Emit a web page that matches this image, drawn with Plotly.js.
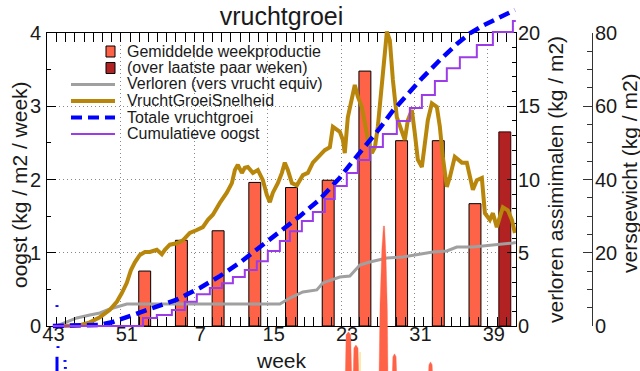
<!DOCTYPE html>
<html>
<head>
<meta charset="utf-8">
<script src="https://cdn.plot.ly/plotly-3.0.1.min.js"></script>
<style>
  html, body { margin: 0; padding: 0; background: #fff; }
  #chart { width: 640px; height: 371px; }
</style>
</head>
<body>
<div id="chart"></div>
<script>
// Week axis: 0 = week 43; numbering wraps after week 52.
const weekTickVals = [0, 8, 16, 24, 32, 40, 48];
const weekTickText = ['43', '51', '7', '15', '23', '31', '39'];

// Average weekly harvest (kg/m2/week), one bar per 4 weeks
const barWeeks = [10.6, 14.6, 18.6, 22.6, 26.6, 30.6, 34.6, 38.6, 42.6, 46.6];
const barValues = [0.75, 1.17, 1.30, 1.96, 1.89, 1.99, 3.48, 2.53, 2.53, 1.67];
// Average over the last couple of weeks
const recentBarWeeks = [49.85];
const recentBarValues = [2.65];

// Lost assimilates, fresh fruit equivalent (kg/m2)
const lostWeeks = [1.02, 2.11, 3.20, 4.62, 5.71, 6.80, 7.56, 8.65, 25.33, 26.42, 27.84, 29.36, 30.01,
  31.87, 32.96, 34.05, 35.14, 37.0, 38.74, 40.26, 42.0, 43.53, 44.62, 46.37, 48.98, 50.73, 51.05];
const lostValues = [0, 0.27, 0.55, 0.75, 0.89, 1.16, 1.30, 1.50, 1.50, 1.91, 2.32, 2.46, 2.94,
  3.34, 3.41, 4.16, 4.37, 4.64, 4.71, 4.85, 5.05, 5.12, 5.39, 5.39, 5.53, 5.67, 5.70];

// Fruit growth rate (kg/m2/week)
const growthWeeks = [1.68, 3.53, 4.62, 5.71, 6.80, 7.56, 8.11, 8.65, 9.09, 9.53, 10.07, 10.62, 11.16,
  11.92, 12.47, 12.80, 13.34, 14.10, 14.76, 15.52, 16.28, 16.94, 17.49, 18.03, 18.79, 19.55, 20.10,
  20.43, 20.75, 21.19, 21.51, 21.84, 22.39, 22.93, 23.48, 23.91, 24.24, 24.57, 25.11, 25.55, 25.87,
  26.20, 26.64, 27.18, 27.84, 28.38, 28.93, 29.69, 30.23, 30.78, 31.11, 31.54, 31.87, 32.20, 32.41,
  32.74, 33.18, 33.50, 33.83, 34.27, 34.60, 34.92, 35.36, 35.69, 36.01, 36.45, 36.78, 37.00, 37.32,
  37.65, 38.08, 38.63, 38.95, 39.28, 39.72, 40.04, 40.37, 40.81, 41.13, 41.46, 41.90, 42.44, 42.77,
  43.09, 43.53, 43.86, 44.40, 44.73, 45.17, 45.71, 46.04, 46.37, 46.80, 47.35, 47.68, 48.22, 48.55,
  48.98, 49.31, 49.64, 50.18, 50.62, 50.95];
const growthRates = [0, 0.01, 0.05, 0.12, 0.22, 0.33, 0.45, 0.59, 0.76, 0.87, 0.97, 1.01, 1.01,
  1.04, 0.98, 1.04, 1.11, 1.13, 1.17, 1.27, 1.31, 1.35, 1.45, 1.52, 1.68, 1.82, 1.95,
  2.13, 2.20, 2.09, 2.16, 2.17, 2.09, 2.13, 1.99, 1.79, 1.69, 1.82, 1.95, 2.09, 2.23,
  2.13, 1.95, 1.92, 2.06, 2.09, 2.23, 2.33, 2.40, 2.44, 2.72, 2.68, 2.65, 2.54, 2.36,
  2.85, 3.09, 3.29, 3.13, 2.99, 2.77, 2.54, 2.36, 2.44, 2.72, 3.26, 3.77, 4.02, 3.90,
  3.36, 2.85, 2.63, 2.54, 2.81, 2.95, 2.63, 2.27, 2.17, 2.54, 2.81, 3.04, 2.99, 2.72,
  2.31, 1.90, 2.03, 2.31, 2.27, 2.23, 2.23, 2.03, 1.86, 1.99, 2.02, 1.54, 1.45, 1.54,
  1.35, 1.49, 1.62, 1.58, 1.45, 1.27];

// Total fruit growth (kg/m2 fresh weight)
const totalWeeks = [0.59, 3.53, 5.71, 7.13, 9.31, 11.16, 14.10, 16.61, 18.79, 20.97, 23.15, 25.33,
  27.51, 29.69, 31.87, 32.96, 34.81, 36.23, 37.65, 39.50, 40.92, 42.77, 44.62, 46.04, 47.46, 49.31, 50.95];
const totalGrowth = [0, 0, 0.3, 1.1, 3.0, 4.6, 7.2, 10.4, 13.6, 17.3, 21.6, 25.6,
  30.0, 34.6, 40.5, 44.0, 49.5, 54.0, 58.8, 64.2, 67.9, 72.6, 77.0, 79.9, 82.0, 84.3, 86.3];

// Cumulative harvest (kg/m2 fresh weight), stepping up at each harvest
const harvestWeeks = [0.59, 10.41, 11.92, 13.56, 14.97, 16.28, 17.70, 19.01, 20.21, 21.51, 22.82,
  24.02, 25.33, 26.42, 27.73, 28.93, 30.23, 31.32, 32.63, 33.83, 35.14, 36.56, 38.08, 39.50, 40.81,
  42.23, 43.53, 44.95, 46.80, 48.55, 50.73, 51.05];
const harvestCum = [0, 2.2, 3.0, 4.4, 6.6, 8.7, 10.4, 11.7, 13.4, 15.3, 17.7,
  20.5, 23.2, 25.9, 28.7, 31.1, 34.7, 38.2, 41.8, 45.3, 48.9, 52.4, 56.0, 59.5, 63.1,
  66.9, 70.4, 73.4, 76.7, 80.3, 83.3, 83.3];

// Stray daily-harvest spikes that spill below the week axis (one outline per spike)
const spikeWeeks = [
  [32.45, 32.55, 32.8, 33.05, 33.18],
  [33.30, 33.40, 33.62, 33.85, 33.96],
  [36.13, 36.25, 36.45, 36.62, 36.74, 36.9, 37.05, 37.12],
  [37.55, 37.65, 37.83, 38.0, 38.1],
  [41.48, 41.58, 41.75, 41.93, 42.03]
];
const spikeLevels = [
  [-0.8, -0.12, -0.08, -0.12, -0.8],
  [-0.8, -0.30, -0.26, -0.30, -0.8],
  [-0.8, 0.3, 1.05, 1.365, 1.365, 0.95, 0.2, -0.8],
  [-0.8, -0.42, -0.38, -0.42, -0.8],
  [-0.8, -0.53, -0.49, -0.53, -0.8]
];
const paleWeeks = [34.07, 34.07];
const paleLevels = [-0.355, -0.7];
// Stray dashes of the growth curve near the start
const strayWeeks = [1.04, 1.04, null, 1.15, 1.15, null, 1.04, 1.04, null, 1.91, 1.91, null, 1.95, 1.95];
const strayLevels = [0.285, 0.26, null, -0.275, -0.30, null, -0.42, -0.7, null, -0.465, -0.49, null, -0.56, -0.585];

// ---- layout geometry (pixels of a 640 x 371 page) ----
const W = 640, H = 371;
const plotL = 47, plotR = 516, plotT = 33, plotB = 326;
const xDom = [plotL / W, plotR / W];
const yDom = [(H - plotB) / H, (H - plotT) / H];
const xRange = [-0.05, 51.07];
const perPx = 4 / (plotB - plotT);
const fullLeft = [-(H - plotB) * perPx, plotB * perPx];
const fullWeight = fullLeft.map(v => v * 20);

const FONT = 'Liberation Sans, Arial, Helvetica, sans-serif';
const INK = '#1a1a1a';
const TOMATO = '#FF6347';
const FIREBRICK = '#B22222';
const GREY = '#A0A0A0';
const GOLD = '#B8860B';
const BLUE = '#0000FF';
const VIOLET = '#9B3CE8';
const DASH = '11px,6px';

const traces = [
  { type: 'bar', name: 'Gemiddelde weekproductie', x: barWeeks, y: barValues, width: 1.3,
    marker: { color: TOMATO, line: { color: '#000', width: 1 } }, xaxis: 'x', yaxis: 'y' },
  { type: 'bar', name: '(over laatste paar weken)', x: recentBarWeeks, y: recentBarValues, width: 1.3,
    marker: { color: FIREBRICK, line: { color: '#300', width: 1 } }, xaxis: 'x', yaxis: 'y' },
  { type: 'scatter', mode: 'lines', name: 'Verloren (vers vrucht equiv)', x: lostWeeks, y: lostValues,
    line: { color: GREY, width: 3 }, xaxis: 'x', yaxis: 'y2' },
  // empty series that registers the fresh-weight axis
  { type: 'scatter', mode: 'lines', x: [], y: [], xaxis: 'x', yaxis: 'y3', hoverinfo: 'skip' }
];
// the remaining traces live on full-height twin axes so they may run past the frame
spikeWeeks.forEach((xs, i) => traces.push({
  type: 'scatter', mode: 'lines', x: xs, y: spikeLevels[i], fill: 'toself', fillcolor: TOMATO,
  line: { width: 0.6, color: 'rgba(255,99,71,0.6)' }, xaxis: 'x2', yaxis: 'y4', hoverinfo: 'skip'
}));
traces.push(
  { type: 'scatter', mode: 'lines', x: paleWeeks, y: paleLevels,
    line: { width: 1.2, color: '#F3E27A' }, xaxis: 'x2', yaxis: 'y4', hoverinfo: 'skip' },
  { type: 'scatter', mode: 'lines', name: 'VruchtGroeiSnelheid', x: growthWeeks, y: growthRates,
    line: { color: GOLD, width: 4 }, xaxis: 'x2', yaxis: 'y4' },
  { type: 'scatter', mode: 'lines', name: 'Totale vruchtgroei', x: totalWeeks, y: totalGrowth,
    line: { color: BLUE, width: 4.5, dash: DASH }, xaxis: 'x2', yaxis: 'y5' },
  { type: 'scatter', mode: 'lines', name: 'Cumulatieve oogst', x: harvestWeeks, y: harvestCum,
    line: { color: VIOLET, width: 2, shape: 'hv' }, xaxis: 'x2', yaxis: 'y5' },
  { type: 'scatter', mode: 'lines', x: strayWeeks, y: strayLevels, connectgaps: false,
    line: { color: BLUE, width: 3 }, xaxis: 'x2', yaxis: 'y4', hoverinfo: 'skip' }
);

const tickFont = { family: FONT, size: 20, color: INK };
const frame = { showline: true, linecolor: '#000', linewidth: 1, zeroline: false };
const GRID = { showgrid: true, gridcolor: '#888', griddash: '1px,3px', gridwidth: 1 };

// hand-built key, top left inside the frame
const keyRows = [
  { label: 'Gemiddelde weekproductie', kind: 'box', color: TOMATO },
  { label: '(over laatste paar weken)', kind: 'box', color: FIREBRICK },
  { label: 'Verloren (vers vrucht equiv)', kind: 'line', color: GREY, width: 3 },
  { label: 'VruchtGroeiSnelheid', kind: 'line', color: GOLD, width: 4 },
  { label: 'Totale vruchtgroei', kind: 'line', color: BLUE, width: 4, dash: DASH },
  { label: 'Cumulatieve oogst', kind: 'line', color: VIOLET, width: 2 }
];
const keyTop = 51.5, keyStep = 16.5, keyText = 125, keyLine0 = 71, keyLine1 = 115;
const px = v => v / W;
const py = v => 1 - v / H;
const shapes = [];
const annotations = [];
keyRows.forEach((row, i) => {
  const yc = keyTop + i * keyStep;
  if (row.kind === 'box') {
    shapes.push({ type: 'rect', xref: 'paper', yref: 'paper',
      x0: px(106), x1: px(115), y0: py(yc - 5.5), y1: py(yc + 5.5),
      fillcolor: row.color, line: { color: '#000', width: 1 } });
  } else {
    shapes.push({ type: 'line', xref: 'paper', yref: 'paper',
      x0: px(keyLine0), x1: px(keyLine1), y0: py(yc), y1: py(yc),
      line: { color: row.color, width: row.width, dash: row.dash || 'solid' } });
  }
  annotations.push({ text: row.label, xref: 'paper', yref: 'paper', x: px(keyText), y: py(yc - 0.5),
    xanchor: 'left', yanchor: 'middle', showarrow: false,
    font: { family: FONT, size: 16, color: INK } });
});

// axis titles
const titleFont = { family: FONT, size: 21, color: INK };
annotations.push(
  { text: 'week', xref: 'paper', yref: 'paper', x: px(281.5), y: py(360), xanchor: 'center', yanchor: 'middle',
    showarrow: false, font: titleFont },
  { text: 'oogst (kg / m2 / week)', xref: 'paper', yref: 'paper', x: px(20), y: py(185), textangle: -90,
    xanchor: 'center', yanchor: 'middle', showarrow: false, font: titleFont },
  { text: 'verloren assimimalen (kg / m2)', xref: 'paper', yref: 'paper', x: px(555), y: py(180), textangle: -90,
    xanchor: 'center', yanchor: 'middle', showarrow: false, font: titleFont },
  { text: 'versgewicht (kg / m2)', xref: 'paper', yref: 'paper', x: px(629), y: py(173), textangle: -90,
    xanchor: 'center', yanchor: 'middle', showarrow: false, font: titleFont }
);

const layout = {
  width: W, height: H,
  margin: { l: 0, r: 0, t: 0, b: 0, pad: 0 },
  paper_bgcolor: '#fff', plot_bgcolor: 'rgba(0,0,0,0)',
  showlegend: false, barmode: 'overlay', hovermode: false,
  title: { text: 'vruchtgroei', x: px(281.5), xanchor: 'center', xref: 'paper',
    y: py(16), yanchor: 'middle', yref: 'container',
    font: { family: FONT, size: 25, color: INK } },
  xaxis: Object.assign({
    domain: xDom, range: xRange, anchor: 'y',
    tickmode: 'array', tickvals: weekTickVals, ticktext: weekTickText,
    ticks: 'inside', ticklen: 9, tickcolor: '#000', tickwidth: 1,
    minor: { tickmode: 'linear', tick0: 0, dtick: 1, ticks: 'inside', ticklen: 4, tickcolor: '#000', showgrid: false },
    mirror: 'allticks', tickfont: tickFont, ticklabelshift: 6, ticklabelstandoff: -10, fixedrange: true
  }, GRID, frame),
  yaxis: Object.assign({
    domain: yDom, range: [0, 4], anchor: 'x', tickmode: 'linear', tick0: 0, dtick: 1,
    ticks: 'inside', ticklen: 9, tickcolor: '#000',
    minor: { dtick: 0.5, ticks: 'inside', ticklen: 4, tickcolor: '#000', showgrid: false },
    mirror: true, tickfont: tickFont, ticklabelstandoff: 1, fixedrange: true
  }, GRID, frame),
  yaxis2: Object.assign({
    overlaying: 'y', side: 'right', anchor: 'x', range: [0, 20], tickmode: 'linear', tick0: 0, dtick: 5,
    ticks: 'inside', ticklen: 9, tickcolor: '#000',
    minor: { dtick: 1, ticks: 'inside', ticklen: 4, tickcolor: '#000', showgrid: false },
    showgrid: false, tickfont: tickFont, ticklabelstandoff: -3, fixedrange: true
  }, frame),
  yaxis3: Object.assign({
    overlaying: 'y', side: 'right', anchor: 'free', position: px(592), range: [0, 80],
    tickmode: 'linear', tick0: 0, dtick: 20,
    ticks: 'inside', ticklen: 9, tickcolor: '#333',
    minor: { dtick: 5, ticks: 'inside', ticklen: 5, tickcolor: '#333', showgrid: false },
    showgrid: false, tickfont: tickFont, ticklabelstandoff: -2, fixedrange: true
  }, frame, { linecolor: '#333' }),
  xaxis2: { domain: xDom, range: xRange, anchor: 'y4', visible: false, fixedrange: true },
  yaxis4: { domain: [0, 1], range: fullLeft, anchor: 'x2', visible: false, fixedrange: true },
  yaxis5: { overlaying: 'y4', range: fullWeight, anchor: 'x2', visible: false, fixedrange: true },
  shapes: shapes,
  annotations: annotations
};

Plotly.newPlot('chart', traces, layout, { staticPlot: true, displayModeBar: false });
</script>
</body>
</html>
